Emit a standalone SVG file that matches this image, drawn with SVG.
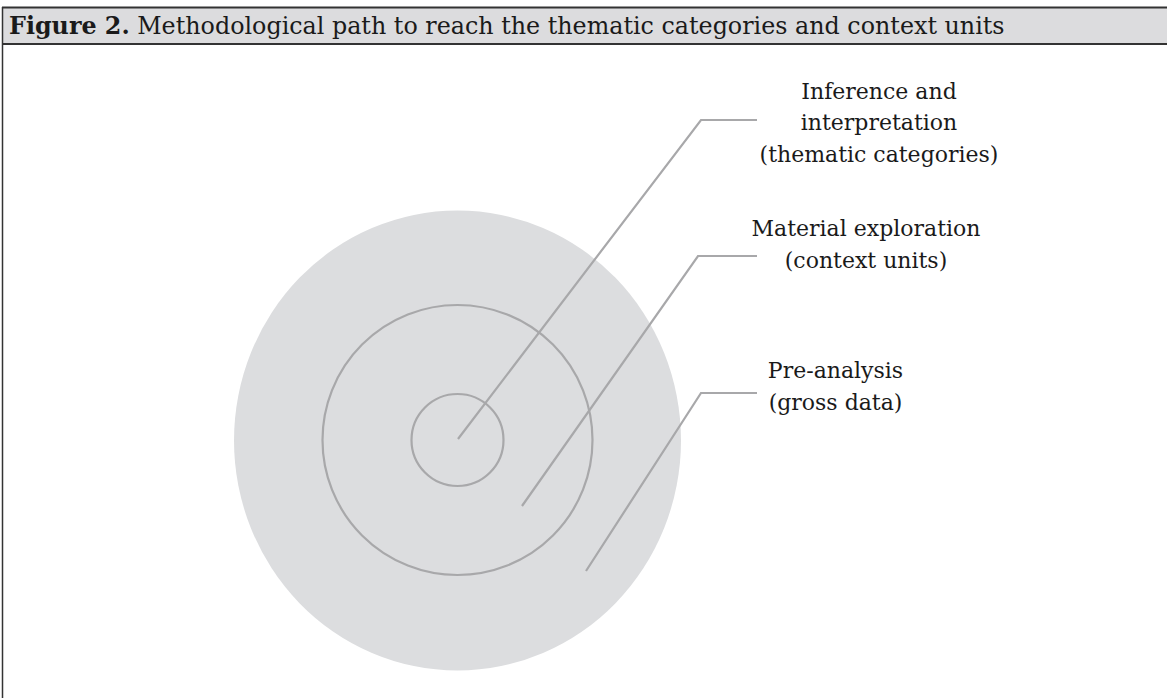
<svg xmlns="http://www.w3.org/2000/svg" width="1167" height="698" viewBox="0 0 1167 698">
<style>
.lbl{font-family:"DejaVu Serif","Liberation Serif",serif;font-size:22px;fill:#1a1a1a;text-anchor:middle}
.hdr{font-family:"DejaVu Serif","Liberation Serif",serif;font-size:23.8px;fill:#1a1a1a}
.ring{fill:none;stroke:#a8a8aa;stroke-width:2.2}
.conn{fill:none;stroke:#a8a8aa;stroke-width:2.2;stroke-linejoin:miter}
</style>
<rect x="0" y="0" width="1167" height="698" fill="#ffffff"/>
<g id="frame">
<rect x="2" y="8" width="1165" height="36" fill="#dcdcde"/>
<line x1="2" y1="7.5" x2="1167" y2="7.5" stroke="#333" stroke-width="2"/>
<line x1="2" y1="44" x2="1167" y2="44" stroke="#333" stroke-width="2"/>
<line x1="2.5" y1="7" x2="2.5" y2="698" stroke="#333" stroke-width="1.5"/>
<text class="hdr" x="9" y="34"><tspan font-weight="bold">Figure 2.</tspan> Methodological path to reach the thematic categories and context units</text>
</g>
<g id="outer">
<ellipse cx="457.5" cy="440.5" rx="223.5" ry="230" fill="#dcdddf"/>
</g>
<g id="middle">
<circle class="ring" cx="457.5" cy="440" r="135"/>
</g>
<g id="inner">
<circle class="ring" cx="457.5" cy="440" r="46"/>
</g>
<g id="connectors">
<polyline class="conn" points="458,439 701,120 757,120"/>
<polyline class="conn" points="522,506 698,256 757,256"/>
<polyline class="conn" points="586,571 701,393 757,393"/>
</g>
<g id="label-inference">
<text class="lbl" x="879" y="99">Inference and</text>
<text class="lbl" x="879" y="130">interpretation</text>
<text class="lbl" x="879" y="162">(thematic categories)</text>
</g>
<g id="label-material">
<text class="lbl" x="866" y="236">Material exploration</text>
<text class="lbl" x="866" y="268">(context units)</text>
</g>
<g id="label-pre">
<text class="lbl" x="835.5" y="378">Pre-analysis</text>
<text class="lbl" x="835.5" y="410">(gross data)</text>
</g>
</svg>
